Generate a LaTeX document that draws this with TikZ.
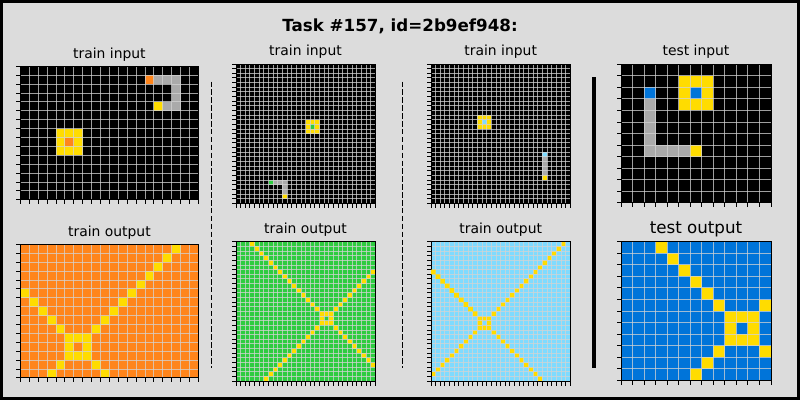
\documentclass[tikz,border=0pt]{standalone}
\usepackage{fontspec}
\setmainfont{DejaVu Sans}
\definecolor{arcblue}{HTML}{0074D9}
\definecolor{arcgreen}{HTML}{2ECC40}
\definecolor{arcyellow}{HTML}{FFDC00}
\definecolor{arcgray}{HTML}{AAAAAA}
\definecolor{arcorange}{HTML}{FF851B}
\definecolor{arclblue}{HTML}{7FDBFF}
\definecolor{figbg}{HTML}{DCDCDC}
\definecolor{gridcol}{HTML}{D3D3D3}
\tikzset{
  gridl/.style={draw=gridcol, draw opacity=0.75, line width=1pt},
  tickl/.style={draw=black, line width=1pt},
  framel/.style={draw=black, line width=1pt},
  subttl/.style={anchor=base, inner sep=0pt, font=\fontsize{13.9}{16}\selectfont},
  bigttl/.style={anchor=base, inner sep=0pt, font=\fontsize{16.7}{19}\selectfont},
  sepdash/.style={draw=black, line width=1.4pt, dash pattern=on 5.5pt off 2.4pt},
  sepsolid/.style={draw=black, line width=4pt}
}
\newcommand{\panelgrid}[2]{%
  \foreach \i in {0,...,#1} {\draw[gridl] (\i,0) -- (\i,#2);}
  \foreach \j in {0,...,#2} {\draw[gridl] (0,\j) -- (#1,\j);}
  \draw[framel] (0,0) rectangle (#1,#2);
  \foreach \i in {0,...,#1} {\draw[tickl] (\i,#2) -- ++(0pt,-4.5pt);}
  \foreach \j in {0,...,#2} {\draw[tickl] (0,\j) -- ++(-4.5pt,0pt);}
}
\newcommand{\yc}[2]{\fill[arcyellow] ({#1},{#2}) rectangle ++(1,1);}
\begin{document}
\begin{tikzpicture}[x=1pt,y=-1pt]
\useasboundingbox (0,0) rectangle (800,400);
\fill[black] (0,0) rectangle (800,400);
\fill[figbg] (3,3) rectangle (797,397);

\node[bigttl] (title) at (400,31.7) {\textbf{Task \#157, id=2b9ef948:}};

% ---------- panel 1 input ----------
\begin{scope}[xshift=20.4pt, yshift=-66.3pt, x=8.9pt, y=-8.9pt]
  \fill[black] (0,0) rectangle (20,15);
  \fill[arcorange] (14,1) rectangle ++(1,1);
  \fill[arcgray] (15,1) rectangle (18,2);
  \fill[arcgray] (17,2) rectangle (18,5);
  \fill[arcgray] (16,4) rectangle (17,5);
  \fill[arcyellow] (15,4) rectangle ++(1,1);
  \fill[arcyellow] (4,7) rectangle (7,10);
  \fill[arcorange] (5,8) rectangle ++(1,1);
  \panelgrid{20}{15}
\end{scope}
% ---------- panel 1 output ----------
\begin{scope}[xshift=20.4pt, yshift=-244.4pt, x=8.9pt, y=-8.9pt]
  \fill[arcorange] (0,0) rectangle (20,15);
  \fill[arcyellow] (5,10) rectangle (8,13);
  \fill[arcorange] (6,11) rectangle ++(1,1);
  \foreach \k in {1,...,5} {\yc{5-\k}{10-\k}}
  \foreach \k in {1,...,10} {\yc{7+\k}{10-\k}}
  \foreach \k in {1,2} {\yc{5-\k}{12+\k}}
  \foreach \k in {1,2} {\yc{7+\k}{12+\k}}
  \panelgrid{20}{15}
\end{scope}

% ---------- panel 2 input ----------
\begin{scope}[xshift=236pt, yshift=-64pt, x=4.643pt, y=-4.643pt]
  \fill[black] (0,0) rectangle (30,30);
  \fill[arcyellow] (15,12) rectangle (18,15);
  \fill[arcgreen] (16,13) rectangle ++(1,1);
  \fill[arcgreen] (7,25) rectangle ++(1,1);
  \fill[arcgray] (8,25) rectangle (11,26);
  \fill[arcgray] (10,26) rectangle (11,28);
  \fill[arcyellow] (10,28) rectangle ++(1,1);
  \panelgrid{30}{30}
\end{scope}
% ---------- panel 2 output ----------
\begin{scope}[xshift=236pt, yshift=-241.8pt, x=4.643pt, y=-4.643pt]
  \fill[arcgreen] (0,0) rectangle (30,30);
  \fill[arcyellow] (18,15) rectangle (21,18);
  \fill[arcgreen] (19,16) rectangle ++(1,1);
  \foreach \k in {1,...,15} {\yc{18-\k}{15-\k}}
  \foreach \k in {1,...,9} {\yc{20+\k}{15-\k}}
  \foreach \k in {1,...,12} {\yc{18-\k}{17+\k}}
  \foreach \k in {1,...,9} {\yc{20+\k}{17+\k}}
  \panelgrid{30}{30}
\end{scope}

% ---------- panel 3 input ----------
\begin{scope}[xshift=431pt, yshift=-64pt, x=4.643pt, y=-4.643pt]
  \fill[black] (0,0) rectangle (30,30);
  \fill[arcyellow] (10,11) rectangle (13,14);
  \fill[arclblue] (11,12) rectangle ++(1,1);
  \fill[arclblue] (24,19) rectangle ++(1,1);
  \fill[arcgray] (24,20) rectangle (25,24);
  \fill[arcyellow] (24,24) rectangle ++(1,1);
  \panelgrid{30}{30}
\end{scope}
% ---------- panel 3 output ----------
\begin{scope}[xshift=431pt, yshift=-241.8pt, x=4.643pt, y=-4.643pt]
  \fill[arclblue] (0,0) rectangle (30,30);
  \fill[arcyellow] (10,16) rectangle (13,19);
  \fill[arclblue] (11,17) rectangle ++(1,1);
  \foreach \k in {1,...,16} {\yc{12+\k}{16-\k}}
  \foreach \k in {1,...,10} {\yc{10-\k}{18+\k}}
  \foreach \k in {1,...,11} {\yc{12+\k}{18+\k}}
  \panelgrid{30}{30}
  \fill[arcyellow] (9,15) rectangle (10,16) (8,14) rectangle (9,15)
    (7,13) rectangle (8,14) (6,12) rectangle (7,13) (5,11) rectangle (6,12)
    (4,10) rectangle (5,11) (3,9) rectangle (4,10) (2,8) rectangle (3,9)
    (1,7) rectangle (2,8) (0,6) rectangle (1,7);
\end{scope}

% ---------- panel 4 input ----------
\begin{scope}[xshift=621pt, yshift=-64.3pt, x=11.54pt, y=-11.54pt]
  \fill[black] (0,0) rectangle (13,12);
  \fill[arcyellow] (5,1) rectangle (8,4);
  \fill[arcblue] (6,2) rectangle ++(1,1);
  \fill[arcblue] (2,2) rectangle ++(1,1);
  \fill[arcgray] (2,3) rectangle (3,8);
  \fill[arcgray] (3,7) rectangle (6,8);
  \fill[arcyellow] (6,7) rectangle ++(1,1);
  \panelgrid{13}{12}
\end{scope}
% ---------- panel 4 output ----------
\begin{scope}[xshift=621pt, yshift=-241.8pt, x=11.54pt, y=-11.54pt]
  \fill[arcblue] (0,0) rectangle (13,12);
  \fill[arcyellow] (9,6) rectangle (12,9);
  \fill[arcblue] (10,7) rectangle ++(1,1);
  \foreach \k in {1,...,6} {\yc{9-\k}{6-\k}}
  \yc{12}{5}
  \foreach \k in {1,...,3} {\yc{9-\k}{8+\k}}
  \yc{12}{9}
  \panelgrid{13}{12}
\end{scope}

% ---------- titles ----------
\node[subttl] (t1i) at (109.4,58) {train input};
\node[subttl] (t2i) at (305.5,55.7) {train input};
\node[subttl] (t3i) at (500.7,55.7) {train input};
\node[subttl] (t4i) at (696,55.7) {test input};
\node[subttl] (t1o) at (109.4,236.1) {train output};
\node[subttl] (t2o) at (305.5,233.5) {train output};
\node[subttl] (t3o) at (500.7,233.5) {train output};
\node[bigttl] (t4o) at (696,233.5) {test output};

% ---------- separators ----------
\draw[sepdash] (211.3,81.5) -- (211.3,367.5);
\draw[sepdash] (402.3,81.5) -- (402.3,367.5);
\draw[sepsolid] (593.8,77) -- (593.8,367.7);
\end{tikzpicture}
\end{document}
